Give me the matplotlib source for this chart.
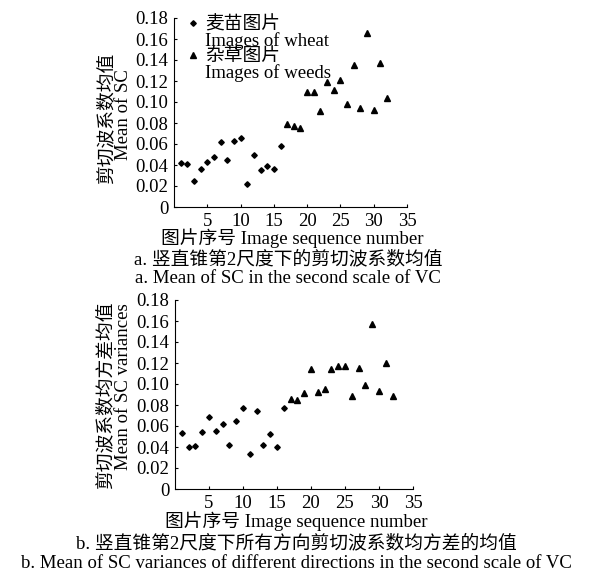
import matplotlib
matplotlib.use('Agg')
import matplotlib.pyplot as plt
import matplotlib.ticker as mticker
from matplotlib.lines import Line2D

plt.rcParams['font.family'] = ['Liberation Serif', 'Noto Sans CJK SC']

# image index
wheat_x = list(range(1, 17))
weeds_x = list(range(17, 33))

# a. mean of SC
mean_wheat = [0.042, 0.041, 0.025, 0.036, 0.043, 0.048, 0.062, 0.045,
              0.063, 0.066, 0.022, 0.050, 0.035, 0.039, 0.036, 0.058]
mean_weeds = [0.079, 0.077, 0.075, 0.110, 0.110, 0.091, 0.119, 0.111,
              0.121, 0.098, 0.135, 0.094, 0.166, 0.092, 0.137, 0.104]

# b. mean of SC variances
var_wheat = [0.053, 0.040, 0.041, 0.054, 0.069, 0.055, 0.062, 0.042,
             0.065, 0.077, 0.033, 0.074, 0.042, 0.052, 0.040, 0.077]
var_weeds = [0.086, 0.085, 0.091, 0.114, 0.092, 0.095, 0.114, 0.117,
             0.117, 0.089, 0.115, 0.099, 0.157, 0.093, 0.120, 0.089]

xticks = [5, 10, 15, 20, 25, 30, 35]
yticks = [0, 0.02, 0.04, 0.06, 0.08, 0.10, 0.12, 0.14, 0.16, 0.18]

fs = 13.5

fig = plt.figure(figsize=(5.92, 5.72), dpi=100)
ax1 = fig.add_axes([174 / 592, 1 - 207 / 572, 233 / 592, 189 / 572])
ax2 = fig.add_axes([175 / 592, 1 - 489 / 572, 238 / 592, 189 / 572])


def fmt(v, pos):
    return '0' if v == 0 else '%.2f' % v


handles = []
for ax, yw, yd in [(ax1, mean_wheat, mean_weeds), (ax2, var_wheat, var_weeds)]:
    h1, = ax.plot(wheat_x, yw, linestyle='none', marker='D', markersize=2.8,
                  color='black')
    h2, = ax.plot(weeds_x, yd, linestyle='none', marker='^', markersize=4.5,
                  color='black')
    handles.append((h1, h2))
    ax.set_xlim(0, 35)
    ax.set_ylim(0, 0.18)
    ax.set_xticks(xticks)
    ax.set_yticks(yticks)
    ax.yaxis.set_major_formatter(mticker.FuncFormatter(fmt))
    ax.spines['top'].set_visible(False)
    ax.spines['right'].set_visible(False)
    ax.spines['left'].set_linewidth(0.8)
    ax.spines['bottom'].set_linewidth(0.8)
    ax.tick_params(direction='in', length=2.5, width=0.8, labelsize=fs)
    ax.tick_params(axis='x', pad=4)
    ax.tick_params(axis='y', pad=4)

blank = Line2D([], [], linestyle='none')
h1, h2 = handles[0]
ax1.legend([h1, blank, h2, blank],
           ['麦苗图片', 'Images of wheat', '杂草图片', 'Images of weeds'],
           loc='upper left', bbox_to_anchor=(0.01, 1.06), frameon=False,
           fontsize=fs, handlelength=0.8, handletextpad=0.25,
           labelspacing=-0.08, borderpad=0.0)

# y labels
fig.text(107 / 592, 1 - 118 / 572, '剪切波系数均值', rotation=90,
         ha='center', va='center', fontsize=fs)
fig.text(124 / 592, 1 - 115 / 572, 'Mean of SC', rotation=90,
         ha='center', va='center', fontsize=fs)
fig.text(106 / 592, 1 - 395 / 572, '剪切波系数均方差均值', rotation=90,
         ha='center', va='center', fontsize=fs)
fig.text(124 / 592, 1 - 387 / 572, 'Mean of SC variances', rotation=90,
         ha='center', va='center', fontsize=fs)

# x labels and captions
fig.text(292 / 592, 1 - 238 / 572, '图片序号 Image sequence number',
         ha='center', va='center', fontsize=fs)
fig.text(288 / 592, 1 - 259 / 572, 'a. 竖直锥第2尺度下的剪切波系数均值',
         ha='center', va='center', fontsize=fs)
fig.text(288 / 592, 1 - 279 / 572, 'a. Mean of SC in the second scale of VC',
         ha='center', va='center', fontsize=fs)
fig.text(296 / 592, 1 - 521 / 572, '图片序号 Image sequence number',
         ha='center', va='center', fontsize=fs)
fig.text(296 / 592, 1 - 543 / 572, 'b. 竖直锥第2尺度下所有方向剪切波系数均方差的均值',
         ha='center', va='center', fontsize=fs)
fig.text(296 / 592, 1 - 563 / 572,
         'b. Mean of SC variances of different directions in the second scale of VC',
         ha='center', va='center', fontsize=fs)

fig.savefig('out.png', dpi=100)
